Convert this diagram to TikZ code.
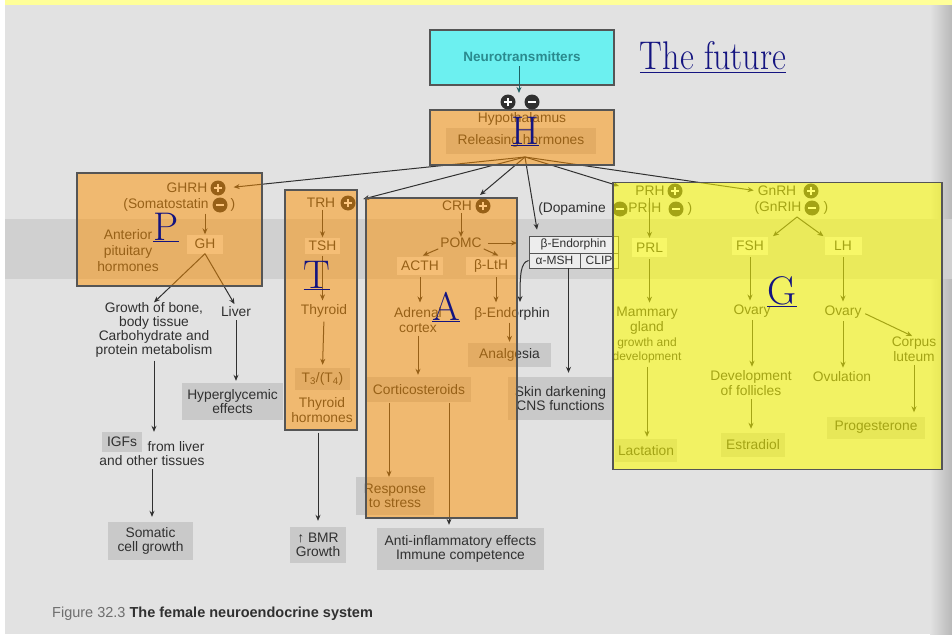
\documentclass[tikz,border=0pt]{standalone}
\usepackage{fontspec}
\setsansfont{Liberation Sans}
\usetikzlibrary{arrows.meta,calc}
\definecolor{page}{HTML}{E2E2E2}
\definecolor{band}{HTML}{D0D0D0}
\definecolor{shadowc}{HTML}{B8B8B8}
\definecolor{txtc}{HTML}{303030}
\definecolor{gbox}{HTML}{C9C9C9}
\definecolor{lbox}{HTML}{EDEDED}
\definecolor{edgec}{HTML}{555555}
\definecolor{orng}{RGB}{254,145,0}
\definecolor{yell}{RGB}{255,255,0}
\definecolor{cyanb}{HTML}{6CF0F0}
\definecolor{tealt}{HTML}{2A8A8E}
\definecolor{navy}{HTML}{141480}
\definecolor{topy}{HTML}{FFFF99}
\definecolor{capg}{HTML}{6E6E6E}
\newcommand\mytext{\sffamily\fontsize{13.8}{14.5}\selectfont}
\newcommand\mysmall{\sffamily\fontsize{12}{14}\selectfont}
\newcommand\myhand{\rmfamily\fontsize{40}{42}\selectfont}
\newcommand\mycap{\sffamily\fontsize{14.5}{16}\selectfont}
\begin{document}
\begin{tikzpicture}[x=1pt,y=-1pt,
  lb/.style={font=\mytext,text=txtc,inner sep=0pt,align=center},
  sm/.style={font=\mysmall,text=txtc,inner sep=0pt,align=center},
  gb/.style 2 args={lb,fill=gbox,minimum width=#1,minimum height=#2},
  wb/.style 2 args={lb,fill=lbox,minimum width=#1,minimum height=#2},
  eb/.style 2 args={sm,draw=edgec,line width=0.8pt,fill=lbox,minimum width=#1,minimum height=#2},
  ovo/.style 2 args={draw=edgec,line width=1.2pt,fill=orng,fill opacity=0.5,minimum width=#1,minimum height=#2,inner sep=0pt},
  ovy/.style 2 args={draw=edgec,line width=1.2pt,fill=yell,fill opacity=0.56,minimum width=#1,minimum height=#2,inner sep=0pt},
  arr/.style={draw=txtc,line width=1pt,-{Stealth[length=6pt,width=5pt]}},
  pl/.style={circle,fill=txtc,minimum size=15pt,inner sep=0pt,path picture={\draw[white,line width=2.4pt] ([xshift=-4pt]path picture bounding box.center) -- ([xshift=4pt]path picture bounding box.center) ([yshift=-4pt]path picture bounding box.center) -- ([yshift=4pt]path picture bounding box.center);}},
  mi/.style={circle,fill=txtc,minimum size=15pt,inner sep=0pt,path picture={\draw[white,line width=2.4pt] ([xshift=-4pt]path picture bounding box.center) -- ([xshift=4pt]path picture bounding box.center);}},
  hand/.style={font=\myhand,text=navy,inner sep=0pt,anchor=base}
]
\useasboundingbox (0,0) rectangle (952,634);
% ---------- background ----------
\fill[white] (0,0) rectangle (952,634);
\fill[page] (5,5) rectangle (952,634);
\shade[left color=page,right color=shadowc] (930,5) rectangle (952,634);
\fill[band] (5,219) rectangle (952,279);
\fill[topy] (5,0) rectangle (952,5);

% ---------- base layer: hypothalamus ----------
\node[lb] (hypt) at (522,119) {Hypothalamus};
\node[gb={150}{26}] (rel) at (521,141) {Releasing hormones};
\coordinate (hypo) at (525,157);

% ---------- P group ----------
\node[lb] (ghrh) at (187,188) {GHRH};
\node[pl] (pGHRH) at (218,188) {};
\node[lb] (soma) at (166,205) {(Somatostatin};
\node[mi] (mSoma) at (220,205) {};
\node[lb] (somaR) at (233,205) {)};
\node[wb={36}{19}] (gh) at (205,244) {GH};
\node[lb,font=\sffamily\fontsize{13.8}{16}\selectfont] (ant) at (128,251) {Anterior\\pituitary\\hormones};
\node[lb,font=\sffamily\fontsize{13.8}{14}\selectfont] (growth) at (154,330) {Growth of bone,\\body tissue\\Carbohydrate and\\protein metabolism};
\node[lb] (liver) at (236,312) {Liver};
\node[gb={101}{37}] (hyper) at (232.5,401.5) {Hyperglycemic\\effects};
\node[gb={40}{20}] (igfs) at (122,442) {IGFs};
\node[lb] (fromliver) at (176,447) {from liver};
\node[lb] (other) at (152,461) {and other tissues};
\node[gb={85}{38}] (somatic) at (150.5,541) {Somatic\\cell growth};
\draw[arr,shorten <=2pt] (gh.north |- soma.south) -- (gh.north);
\draw[arr] (gh.south) -- (growth.north);
\draw[arr,shorten >=3pt] (gh.south) -- (liver.north);
\draw[arr,shorten <=3pt] (growth.south) -- (growth.south |- igfs.north);
\draw[arr,shorten <=3pt,shorten >=2pt] (liver.south) -- (liver.south |- hyper.north);
\draw[arr,shorten <=3pt,shorten >=5pt] (other.south) -- (other.south |- somatic.north);

% ---------- T group ----------
\node[lb] (trh) at (321,203) {TRH};
\node[pl] (pTRH) at (348,203) {};
\node[wb={35}{16}] (tsh) at (322.5,245.5) {TSH};
\node[lb] (thyroid) at (324,311) {Thyroid};
\node[gb={55}{22}] (t34) at (322.5,379) {T\textsubscript{3}/(T\textsubscript{4})};
\node[lb] (thh) at (322,410) {Thyroid\\hormones};
\node[gb={56}{36}] (bmr) at (318,545) {↑ BMR\\Growth};
\draw[arr,shorten <=2pt] (tsh.north |- trh.south) -- (tsh.north);
\draw[arr,shorten <=2pt,shorten >=4pt] (tsh.south) -- (tsh.south |- thyroid.north);
\draw[arr,shorten <=4pt,shorten >=3pt] (thyroid.south) -- (t34.north);

% ---------- A group ----------
\node[lb] (crh) at (457,206) {CRH};
\node[pl] (pCRH) at (483,206) {};
\node[lb] (pomc) at (461,243) {POMC};
\node[wb={46}{18}] (acth) at (420,266) {ACTH};
\node[wb={50}{18}] (lth) at (491,266) {β-LtH};
\node[lb] (adrenal) at (418,320) {Adrenal\\cortex};
\node[lb] (bend) at (512,314) {β-Endorphin};
\node[gb={83}{24}] (analg) at (509.5,355) {Analgesia};
\node[gb={104}{25}] (cortico) at (419,389.5) {Corticosteroids};
\node[gb={78}{38}] (resp) at (395,496) {Response\\to stress};
\node[gb={167}{42}] (anti) at (460.5,549) {Anti-inflammatory effects\\Immune competence};
\draw[arr,shorten <=2pt,shorten >=1pt] (pomc.north |- crh.south) -- (pomc.north);
\draw[arr,shorten <=2pt,shorten >=3pt] (pomc.south west) -- (acth.north);
\draw[arr,shorten <=2pt,shorten >=3pt] (pomc.south east) -- ($(lth.north)+(10,0)$);
\draw[arr,shorten <=6pt] (pomc.east) -- (pomc.east -| 517,0);
\draw[arr,shorten <=2pt,shorten >=5pt] (acth.south) -- (acth.south |- adrenal.north);
\draw[arr,shorten <=2pt,shorten >=5pt] ($(lth.south)+(5,0)$) -- ($(lth.south |- bend.north)+(5,0)$);
\draw[arr,shorten <=2pt,shorten >=1pt] (analg.north |- bend.south) -- (analg.north);
\draw[arr,shorten <=3pt,shorten >=2pt] (adrenal.south) -- (adrenal.south |- cortico.north);
\draw[arr,shorten <=1pt] ($(cortico.south)+(-30,0)$) -- ($(cortico.south |- resp.north)+(-30,0)$);
\draw[arr,shorten <=1pt,shorten >=3pt] ($(cortico.south)+(30,0)$) -- ($(cortico.south |- anti.north)+(30,0)$);

% ---------- beta-endorphin box ----------
\node[eb={89}{17}] (etop) at (573.5,244.5) {β-Endorphin};
\node[eb={51}{15}] (emsh) at (554.5,260.5) {α-MSH};
\node[eb={38}{15}] (eclip) at (599,260.5) {CLIP};
\node[gb={105}{43}] (skin) at (560.5,398.5) {Skin darkening\\CNS functions};
\coordinate (bendtip) at (520,302);
\draw[arr] (emsh.west) .. controls +(-8,2) and +(0,-28) .. (bendtip);
\draw[arr,shorten >=4pt] ($(emsh.south)+(14,0)$) -- ($(emsh.south |- skin.north)+(14,0)$);

\node[lb] (dopa) at (572,209) {(Dopamine};
\node[mi] (mDopa) at (620,209) {};
\node[lb] (prih) at (643,209) {,PRIH};
\node[mi] (mPrih) at (676,209) {};
\node[lb] (prihR) at (690,209) {)};

% ---------- G group ----------
\node[lb] (prh) at (650,191) {PRH};
\node[pl] (pPRH) at (675,191) {};
\node[wb={35}{19}] (prl) at (649.5,247.5) {PRL};
\node[lb,font=\sffamily\fontsize{13.8}{15}\selectfont] (mamm) at (647,320.5) {Mammary\\gland};
\node[sm] (mamm2) at (647,350) {growth and\\development};
\node[gb={62}{23}] (lact) at (646,450.5) {Lactation};
\node[lb] (gnrh) at (777,191) {GnRH};
\node[pl] (pGnRH) at (811,191) {};
\node[lb] (gnrih) at (778,208) {(GnRIH};
\node[mi] (mGnRIH) at (812,208) {};
\node[lb] (gnrihR) at (826,208) {)};
\coordinate (gsplit) at (797,217);
\node[wb={36}{18}] (fsh) at (750,246) {FSH};
\node[wb={37}{18}] (lh) at (843,246) {LH};
\node[lb] (ov1) at (752,311) {Ovary};
\node[lb,font=\sffamily\fontsize{13.8}{15}\selectfont] (devf) at (751,383.5) {Development\\of follicles};
\node[gb={64}{24}] (estr) at (753,445) {Estradiol};
\node[lb] (ov2) at (843,312) {Ovary};
\node[lb] (ovul) at (842,377) {Ovulation};
\node[lb,font=\sffamily\fontsize{13.8}{15}\selectfont] (corp) at (914,349.5) {Corpus\\luteum};
\node[gb={98}{22}] (prog) at (876,427.5) {Progesterone};
\draw[arr,shorten <=2pt] (prl.north |- prh.south) -- (prl.north);
\draw[arr,shorten <=2pt,shorten >=4pt] (prl.south) -- (prl.south |- mamm.north);
\draw[arr,shorten <=4pt,shorten >=2pt] (mamm2.south) -- (mamm2.south |- lact.north);
\draw[arr,shorten >=1pt] (gsplit) -- ($(fsh.north east)+(4,0)$);
\draw[arr,shorten >=1pt] (gsplit) -- (lh.north west);
\draw[arr,shorten <=2pt,shorten >=4pt] (fsh.south) -- (fsh.south |- ov1.north);
\draw[arr,shorten <=3pt,shorten >=4pt] (ov1.south) -- (ov1.south |- devf.north);
\draw[arr,shorten <=3pt,shorten >=4pt] (devf.south) -- (devf.south |- estr.north);
\draw[arr,shorten <=2pt,shorten >=4pt] (lh.south) -- (lh.south |- ov2.north);
\draw[arr,shorten <=3pt,shorten >=4pt] (ov2.south) -- (ov2.south |- ovul.north);
\draw[arr,shorten <=4pt,shorten >=2pt] (ov2.east) -- (corp.north);
\draw[arr,shorten <=3pt,shorten >=4pt] (corp.south) -- (corp.south |- prog.north);

% ---------- hypothalamus connectors ----------
\coordinate (crhtip) at (480,195);
\draw[arr,shorten >=8pt] (hypo) -- (pGHRH.east);
\draw[arr,shorten >=8pt] (hypo) -- (pTRH);
\draw[arr] (hypo) -- (crhtip);
\draw[arr,shorten >=6pt] (hypo) -- ($(etop.north)+(-35.5,0)$);
\draw[arr,shorten >=17pt] (hypo) -- (prh.west);
\draw[arr,shorten >=4pt] (hypo) -- (gnrh.west);

% ---------- colour overlays ----------
\node[ovo={184}{55}] (hyp) at (522,137.5) {};
\node[ovo={185}{113}] (Pbox) at (169.5,229.5) {};
\node[ovo={72}{240}] (Tbox) at (321,310) {};
\node[ovo={151}{320}] (Abox) at (441.5,358) {};
\node[ovy={329}{287}] (Gbox) at (777.5,326) {};

% arrow leaving the thyroid box
\draw[arr,shorten <=2pt,shorten >=6pt] (Tbox.south -| bmr.north) -- (bmr.north);

% ---------- top layer ----------
\node[draw=edgec,line width=1.2pt,fill=cyanb,minimum width=184,minimum height=55] (neuro) at (522,57.5) {};
\node[font=\sffamily\bfseries\fontsize{13.5}{15}\selectfont,text=tealt,inner sep=0pt] (neurot) at (522,57) {Neurotransmitters};
\node[pl] (pN) at (508,102) {};
\node[mi] (mN) at (532,102) {};
\coordinate (ntip) at (519,93);
\draw[arr,draw=tealt!70!black,shorten <=4pt] (neurot.south -| ntip) -- (ntip);

\node[hand] (fut) at (713,70) {\scalebox{0.85}[1]{\underline{The future}}};
\node[hand] (hH) at (525,144) {\underline{H}};
\node[hand] (hP) at (166,240) {\underline{P}};
\node[hand] (hT) at (317,288) {\underline{T}};
\node[hand] (hA) at (446,320) {\underline{A}};
\node[hand] (hG) at (782,304) {\underline{G}};

\node[font=\mycap,anchor=base west,inner sep=0pt] (cap) at (52,617) {{\color{capg}Figure 32.3} \textcolor{txtc}{\bfseries The female neuroendocrine system}};
\end{tikzpicture}
\end{document}
